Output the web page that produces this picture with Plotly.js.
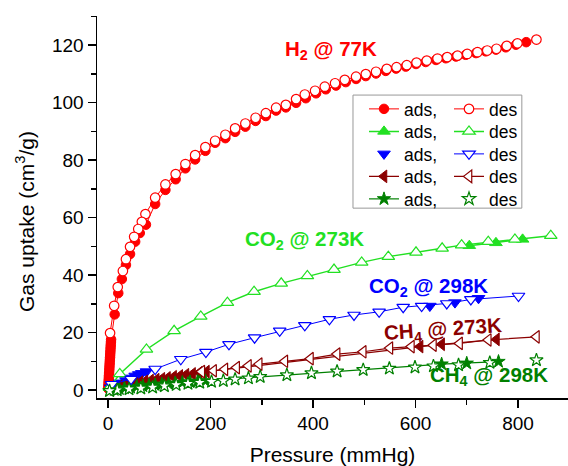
<!DOCTYPE html>
<html>
<head>
<meta charset="utf-8">
<script src="https://cdn.plot.ly/plotly-3.0.1.min.js"></script>
<style>html,body{margin:0;padding:0;background:#fff;}#chart{width:568px;height:466px;}</style>
</head>
<body>
<div id="chart"></div>
<script>
// H2 @ 77K
const h2AdsP = [0.3,0.6,0.9,1.2,1.5,1.8,2.1,2.4,2.7,3.0,3.3,3.6,3.9,4.2,4.5,4.8,5.1,5.4,5.7,6.0,
  13,20,27,35,43,53,62,74,92,112,132,151,170,190,209,229,248,268,288,308,328,347,367,
  386,406,425,445,464,484,503,523,542,562,581,601,620,640,659,679,698,718,737,757,776,796,816];
const h2AdsV = [0.5,1.4,2.3,3.2,4.1,5.0,5.9,6.8,7.7,8.6,9.5,10.4,11.3,12.2,13.1,14.0,14.9,15.8,16.7,17.6,
  26.3,33.7,38.6,43.5,47.3,51.6,54.6,57.5,64.7,69.6,73.3,77.1,80.2,83.2,86.0,87.6,89.8,91.6,93.6,95.3,97.2,98.3,99.9,
  101.5,103.2,104.6,105.9,107.1,108.2,109.2,110.1,111.0,111.8,112.5,113.4,114.1,114.8,115.4,116.0,116.6,117.2,117.8,118.4,119.2,120.1,121.0];
const h2DesP = [836,799,778,758,740,721,701,682,662,643,622,602,583,563,544,523,503,484,462,443,423,404,384,367,
  347,328,308,288,268,248,229,209,190,170,151,132,112,92,73,66,59,51,43,35,29,19,12,4];
const h2DesV = [121.9,120.6,119.7,118.7,118.1,117.5,116.9,116.3,115.8,115.3,114.6,113.9,113.0,112.3,111.7,110.7,109.9,109.0,107.9,106.7,105.5,104.1,102.8,101.2,
  99.2,98.2,96.3,94.7,92.7,91.0,88.8,86.7,84.5,81.7,78.6,75.1,71.5,66.9,61.2,58.5,56.0,53.3,49.8,45.5,41.4,35.8,29.3,19.8];

// CO2 @ 273K
const co2aAdsP = [705,757,809];
const co2aAdsV = [50.2,51.2,52.4];
const co2aDesP = [864,794,742,690,652,601,547,495,441,389,338,285,233,181,129,75,23,3];
const co2aDesV = [53.7,52.4,51.6,50.4,49.3,47.9,46.4,44.4,41.9,39.7,37.1,34.2,30.4,25.6,20.6,14.1,5.6,0.8];

// CO2 @ 298K
const co2bAdsP = [5,14,23,35,45,53,60,66,75,628,677,723];
const co2bAdsV = [0.8,1.6,2.5,3.3,4.2,4.9,5.4,5.8,6.4,29.2,30.4,31.9];
const co2bDesP = [801,708,661,612,576,529,480,432,384,335,286,236,191,142,92,45,7];
const co2bDesV = [32.7,31.5,30.1,29.2,28.8,27.2,26.1,24.6,22.5,20.6,18.2,15.9,13.2,10.7,7.3,3.8,2.0];

// CH4 @ 273K
const ch4aAdsP = [3,12,22,32,42,52,62,72,83,94,105,116,128,140,152,165,178,192,609,651,758];
const ch4aAdsV = [0.3,0.8,1.2,1.6,2.0,2.4,2.7,3.0,3.3,3.6,3.9,4.2,4.6,4.9,5.3,5.6,6.0,6.4,15.1,15.9,17.6];
const ch4aDesP = [836,742,686,635,592,550,498,447,395,345,295,274,251,228,206,183];
const ch4aDesV = [18.5,17.4,16.2,15.6,15.1,14.6,13.3,12.5,10.9,10.0,9.0,8.4,7.8,7.2,6.7,6.4];

// CH4 @ 298K
const ch4bAdsP = [3,12,22,32,44,56,68,80,92,105,118,131,145,160,175,190,651,700,762];
const ch4bAdsV = [-0.2,0.1,0.4,0.7,0.9,1.2,1.4,1.6,1.8,2.0,2.2,2.4,2.6,2.8,3.0,3.2,9.0,9.3,9.9];
const ch4bDesP = [836,745,684,635,599,549,498,447,397,349,297,274,248,225,202,179,156,133,110,87,64,41,18,3];
const ch4bDesV = [10.4,9.5,8.7,8.3,7.9,7.5,7.0,6.5,5.9,5.2,4.6,4.1,3.7,3.2,2.9,2.6,2.2,1.8,1.4,0.9,0.6,0.3,0.0,-0.3];

const legendAds = 'ads,';
const legendDes = 'des';
const xTitle = 'Pressure (mmHg)';
const yTitle = 'Gas uptake (cm<sup>3</sup>/g)';
const labels = ['H<sub>2</sub> @ 77K','CO<sub>2</sub> @ 273K','CO<sub>2</sub> @ 298K','CH<sub>4</sub> @ 273K','CH<sub>4</sub> @ 298K'];
const labelP = [436,384,625,654,743];
const labelV = [118.3,52.2,36.0,20.9,4.9];

const cRed = '#ff0000', cGreen = '#22e022', cBlue = '#0000ff', cBrown = '#8b0000', cDkGreen = '#008000';

function legId(n){ return n === 1 ? 'legend' : 'legend' + n; }
function ads(row, x, y, color, symbol, size, withLine, lw) {
  return {x, y, type:'scatter', mode: withLine ? 'lines+markers' : 'markers', name: legendAds,
    legend: legId(row), line:{color, width:lw||1.2},
    marker:{symbol, size, color, line:{color, width:1}}};
}
function des(row, x, y, color, symbol, size, withLine, lw) {
  return {x, y, type:'scatter', mode: withLine ? 'lines+markers' : 'markers', name: legendDes,
    legend: legId(row + 5), line:{color, width:lw||1.2},
    marker:{symbol, size, color:'#ffffff', line:{color, width:1.2}}};
}

const traces = [
  ads(1, h2AdsP, h2AdsV, cRed, 'circle', 9.5, true, 1),
  ads(2, co2aAdsP, co2aAdsV, cGreen, 'triangle-up', 11, true, 1.5),
  ads(3, co2bAdsP, co2bAdsV, cBlue, 'triangle-down', 11, false),
  ads(4, ch4aAdsP, ch4aAdsV, cBrown, 'triangle-left', 11, true, 1.2),
  ads(5, ch4bAdsP, ch4bAdsV, cDkGreen, 'star', 10, true, 1.2),
  des(1, h2DesP, h2DesV, cRed, 'circle', 9.5, true, 1),
  des(2, co2aDesP, co2aDesV, cGreen, 'triangle-up', 11, true, 1.5),
  des(3, co2bDesP, co2bDesV, cBlue, 'triangle-down', 11, true, 1),
  des(4, ch4aDesP, ch4aDesV, cBrown, 'triangle-left', 11, true, 1.2),
  des(5, ch4bDesP, ch4bDesV, cDkGreen, 'star', 10, false)
];

const fam = 'Liberation Sans, Arial, sans-serif';
const labelColors = [cRed, cGreen, cBlue, cBrown, cDkGreen];
const labelAngles = [0,0,0,-4,0];
const annotations = labels.map((t,i)=>({
  x: labelP[i], y: labelV[i], xref:'x', yref:'y', text:'<b>'+t+'</b>', showarrow:false,
  textangle: labelAngles[i],
  font:{family:fam, size:20.5, color:labelColors[i]}
}));
const plotTop = 16, plotH = 382, plotL = 97, plotW = 471;
// y-axis title, placed like the reference (slightly below the plot-area centre)
annotations.push({xref:'paper', yref:'paper', x:(25 - plotL) / plotW, y:1 - (222 - plotTop) / plotH,
  text:yTitle, textangle:-90, showarrow:false, xanchor:'center', yanchor:'middle',
  font:{family:fam, size:21, color:'#000'}});

const layout = {
  width:568, height:466,
  margin:{l:97, r:0, t:16, b:68},
  paper_bgcolor:'#ffffff', plot_bgcolor:'#ffffff',
  font:{family:fam, color:'#000', size:19},
  showlegend:true,
  xaxis:{range:[-21.5, 897.6], showgrid:false, zeroline:false, showline:true, linecolor:'#000', linewidth:1.5,
    ticks:'outside', ticklen:8, tickwidth:1.5, tickcolor:'#000', dtick:200, tick0:0,
    minor:{ticks:'outside', ticklen:5, tickwidth:1.5, tickcolor:'#000', dtick:100},
    tickfont:{size:19}, title:{text:xTitle, font:{size:21}, standoff:14}},
  yaxis:{range:[-2.78, 130.1], showgrid:false, zeroline:false, showline:true, linecolor:'#000', linewidth:1.5,
    ticks:'outside', ticklen:8, tickwidth:1.5, tickcolor:'#000', dtick:20, tick0:0,
    minor:{ticks:'outside', ticklen:5, tickwidth:1.5, tickcolor:'#000', dtick:10},
    tickfont:{size:19}},
  shapes:[{type:'rect', xref:'paper', yref:'paper', x0:0.5435, x1:0.902, y0:0.497, y1:0.793,
    line:{color:'#999999', width:1}, fillcolor:'#ffffff', layer:'above'}],
  annotations
};
// one legend per cell of the 5x2 legend grid
const rowCentersPx = [109, 131.5, 154, 176.5, 199];
for (let r = 0; r < 5; r++) {
  const y = 1 - (rowCentersPx[r] - plotTop) / plotH;
  const base = {y, yanchor:'middle', xanchor:'left', bgcolor:'rgba(0,0,0,0)', borderwidth:0,
    font:{size:17.5}, itemwidth:30};
  layout[legId(r + 1)] = Object.assign({x:(364 - plotL) / plotW}, base);
  layout[legId(r + 6)] = Object.assign({x:(449 - plotL) / plotW}, base);
}
Plotly.newPlot('chart', traces, layout, {displayModeBar:false, staticPlot:true});
</script>
</body>
</html>
